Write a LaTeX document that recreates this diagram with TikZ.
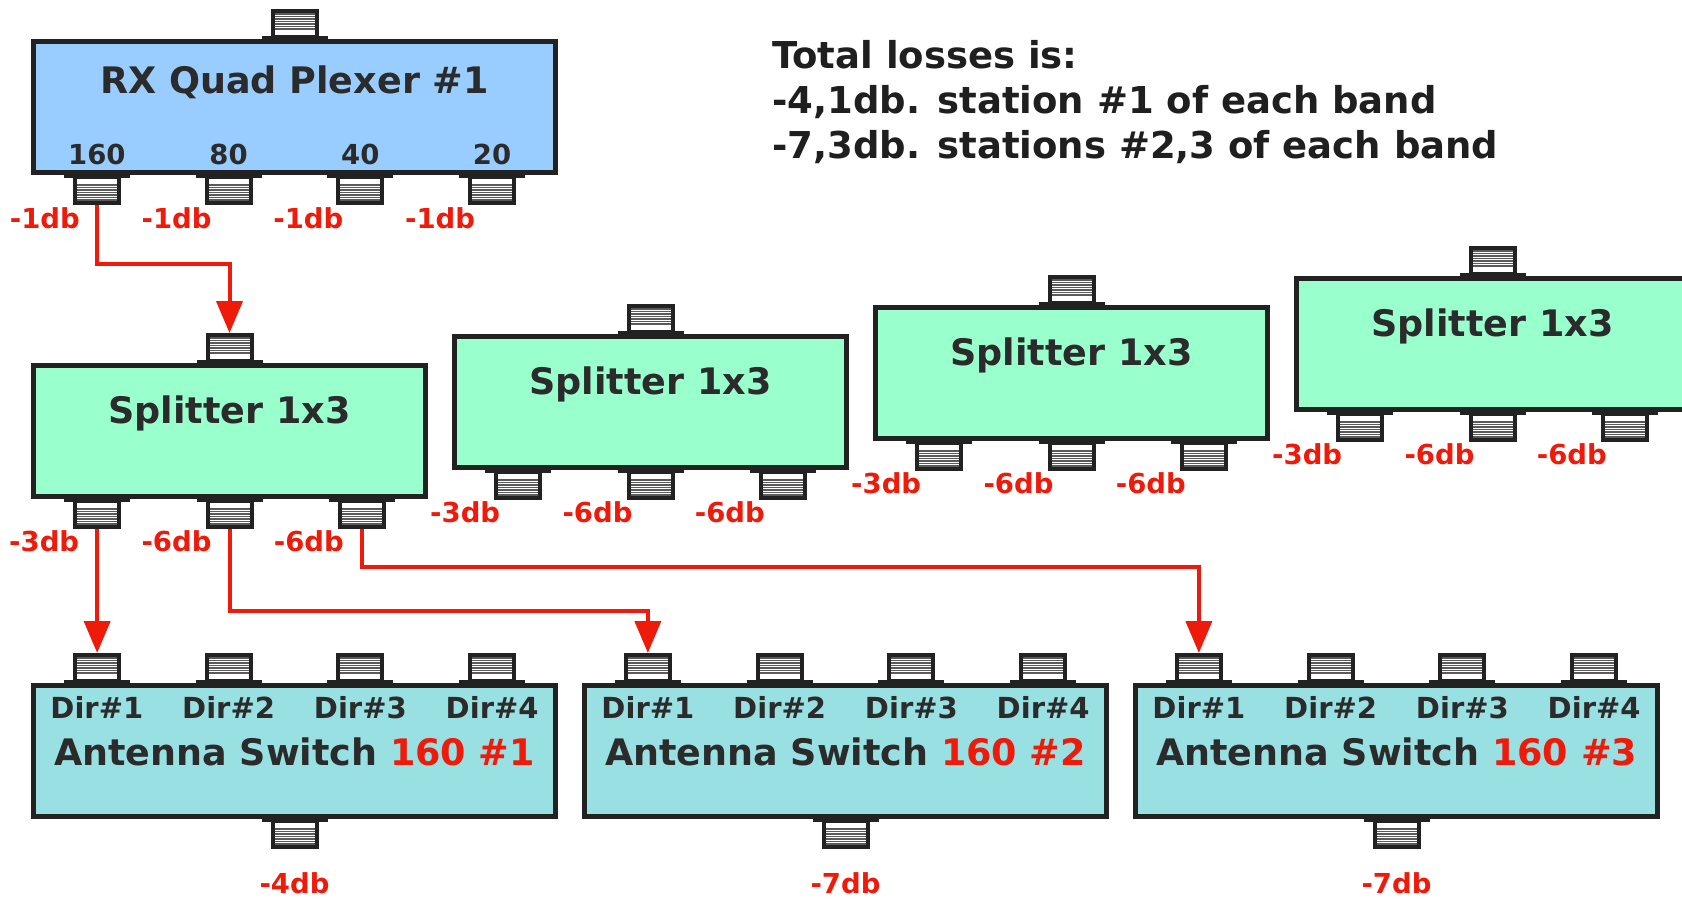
\documentclass[tikz,border=0pt]{standalone}
\usepackage{fontspec}
\setmainfont{DejaVu Sans}
\usetikzlibrary{arrows.meta, positioning, calc}
\definecolor{plexBlue}{HTML}{99CCFF}
\definecolor{splitGreen}{HTML}{99FFCC}
\definecolor{switchCyan}{HTML}{99E0E3}
\definecolor{lineDark}{HTML}{222222}
\definecolor{textDark}{HTML}{2B2B2B}
\definecolor{lossRed}{HTML}{EE1A0A}
\definecolor{hatchGray}{HTML}{5A5A5A}
\tikzset{
  boxQuad/.style={rectangle, draw=lineDark, line width=5pt, fill=plexBlue,
                  minimum width=522pt, minimum height=131pt, inner sep=0pt, anchor=north west},
  boxSplit/.style={rectangle, draw=lineDark, line width=5pt, fill=splitGreen,
                   minimum width=392pt, minimum height=131pt, inner sep=0pt, anchor=north west},
  boxSwitch/.style={rectangle, draw=lineDark, line width=5pt, fill=switchCyan,
                    minimum width=522pt, minimum height=131pt, inner sep=0pt, anchor=north west},
  portUp/.style={rectangle, draw=lineDark, line width=4pt, fill=white, anchor=south,
                 minimum width=44pt, minimum height=26pt, inner sep=0pt,
                 path picture={\foreach \h in {0,...,6}
                   \draw[hatchGray, line width=1.5pt]
                     ([yshift={-3pt-\h*2.5pt}]path picture bounding box.north west) -- ++(60pt,0);}},
  portDown/.style={rectangle, draw=lineDark, line width=4pt, fill=white, anchor=north,
                   minimum width=44pt, minimum height=26pt, inner sep=0pt,
                   path picture={\foreach \h in {0,...,6}
                     \draw[hatchGray, line width=1.5pt]
                       ([yshift={3pt+\h*2.5pt}]path picture bounding box.south west) -- ++(60pt,0);}},
  flange/.style={lineDark, line width=3pt},
  titleTxt/.style={text=textDark, font=\fontsize{36.5}{44}\selectfont\bfseries,
                   inner sep=0pt, anchor=base},
  smallTxt/.style={text=textDark, font=\fontsize{27.5}{33}\selectfont\bfseries,
                   inner sep=0pt, anchor=base},
  dirTxt/.style={smallTxt, font=\fontsize{29}{34}\selectfont\bfseries},
  lossTxt/.style={smallTxt, text=lossRed},
  arrowR/.style={-{Triangle[length=32pt, width=26pt]}, lossRed, line width=4pt},
}

\begin{document}
\begin{tikzpicture}[x=1pt, y=-1pt]
  \useasboundingbox (0,0) rectangle (1682,899);

  % quad plexer
  \node[boxQuad] (qp) at (31,39) {};
  \node[portUp] (qpIn) at (qp.north) {};
  \draw[flange] ([xshift=-33pt, yshift=1.5pt]qpIn.south) -- ([xshift=33pt, yshift=1.5pt]qpIn.south);
  \node[titleTxt] (qpTitle) at ([yshift=-54pt]qp.north) {RX Quad Plexer \#1};
  \foreach \band [count=\i] in {160,80,40,20} {
    \node[portDown] (qp\band) at ($(qp.south west)!{(2*\i-1)/8}!(qp.south east)$) {};
    \draw[flange] ([xshift=-33pt, yshift=-1.5pt]qp\band.north) -- ([xshift=33pt, yshift=-1.5pt]qp\band.north);
    \node[smallTxt] (qpBand\i) at ([yshift=11pt]qp\band.north) {\band};
    \node[lossTxt] (qpLoss\i) at ([xshift=-52pt, yshift=-23pt]qp\band.south) {-1db};
  }

  % splitters
  \foreach \n in {1,...,4} {
    \node[boxSplit] (sp\n) at ({31+421*(\n-1)}, {363-29*(\n-1)}) {};
    \node[portUp] (sp\n In) at (sp\n.north) {};
    \draw[flange] ([xshift=-33pt, yshift=1.5pt]sp\n In.south) -- ([xshift=33pt, yshift=1.5pt]sp\n In.south);
    \node[titleTxt] (sp\n Title) at ([yshift=-60pt]sp\n.north) {Splitter 1x3};
    \foreach \loss [count=\i] in {-3db,-6db,-6db} {
      \node[portDown] (sp\n o\i) at ($(sp\n.south west)!{(2*\i-1)/6}!(sp\n.south east)$) {};
      \draw[flange] ([xshift=-33pt, yshift=-1.5pt]sp\n o\i.north) -- ([xshift=33pt, yshift=-1.5pt]sp\n o\i.north);
      \node[lossTxt] (sp\n Loss\i) at ([xshift=-53pt, yshift=-22pt]sp\n o\i.south) {\loss};
    }
  }

  % antenna switches
  \foreach \m/\total in {1/-4db, 2/-7db, 3/-7db} {
    \node[boxSwitch] (sw\m) at ({31+551*(\m-1)}, 683) {};
    \node[titleTxt] (sw\m Title) at ([yshift=-82pt]sw\m.north)
      {Antenna Switch \textcolor{lossRed}{160 \#\m}};
    \foreach \i in {1,...,4} {
      \node[portUp] (sw\m p\i) at ($(sw\m.north west)!{(2*\i-1)/8}!(sw\m.north east)$) {};
      \draw[flange] ([xshift=-33pt, yshift=1.5pt]sw\m p\i.south) -- ([xshift=33pt, yshift=1.5pt]sw\m p\i.south);
      \node[dirTxt] (sw\m Dir\i) at ([yshift=-35pt]sw\m p\i.south) {Dir\#\i};
    }
    \node[portDown] (sw\m Out) at (sw\m.south) {};
    \draw[flange] ([xshift=-33pt, yshift=-1.5pt]sw\m Out.north) -- ([xshift=33pt, yshift=-1.5pt]sw\m Out.north);
    \node[lossTxt] (sw\m Loss) at ([yshift=-44pt]sw\m Out.south) {\total};
  }

  \node[anchor=north west, align=left, inner sep=0pt, text=black!88,
        font=\fontsize{37}{45}\selectfont\bfseries] (totals) at (772,40)
    {Total losses is:\\-4,1db. station \#1 of each band\\-7,3db. stations \#2,3 of each band};

  \draw[arrowR] (qp160.south) -- ++(0,59) -| (sp1In.north);
  \draw[arrowR] (sp1o1.south) -- (sp1o1.south |- sw1p1.north);
  \draw[arrowR] (sp1o2.south) -- ++(0,82) -| (sw2p1.north);
  \draw[arrowR] (sp1o3.south) -- ++(0,38) -| (sw3p1.north);
\end{tikzpicture}
\end{document}
